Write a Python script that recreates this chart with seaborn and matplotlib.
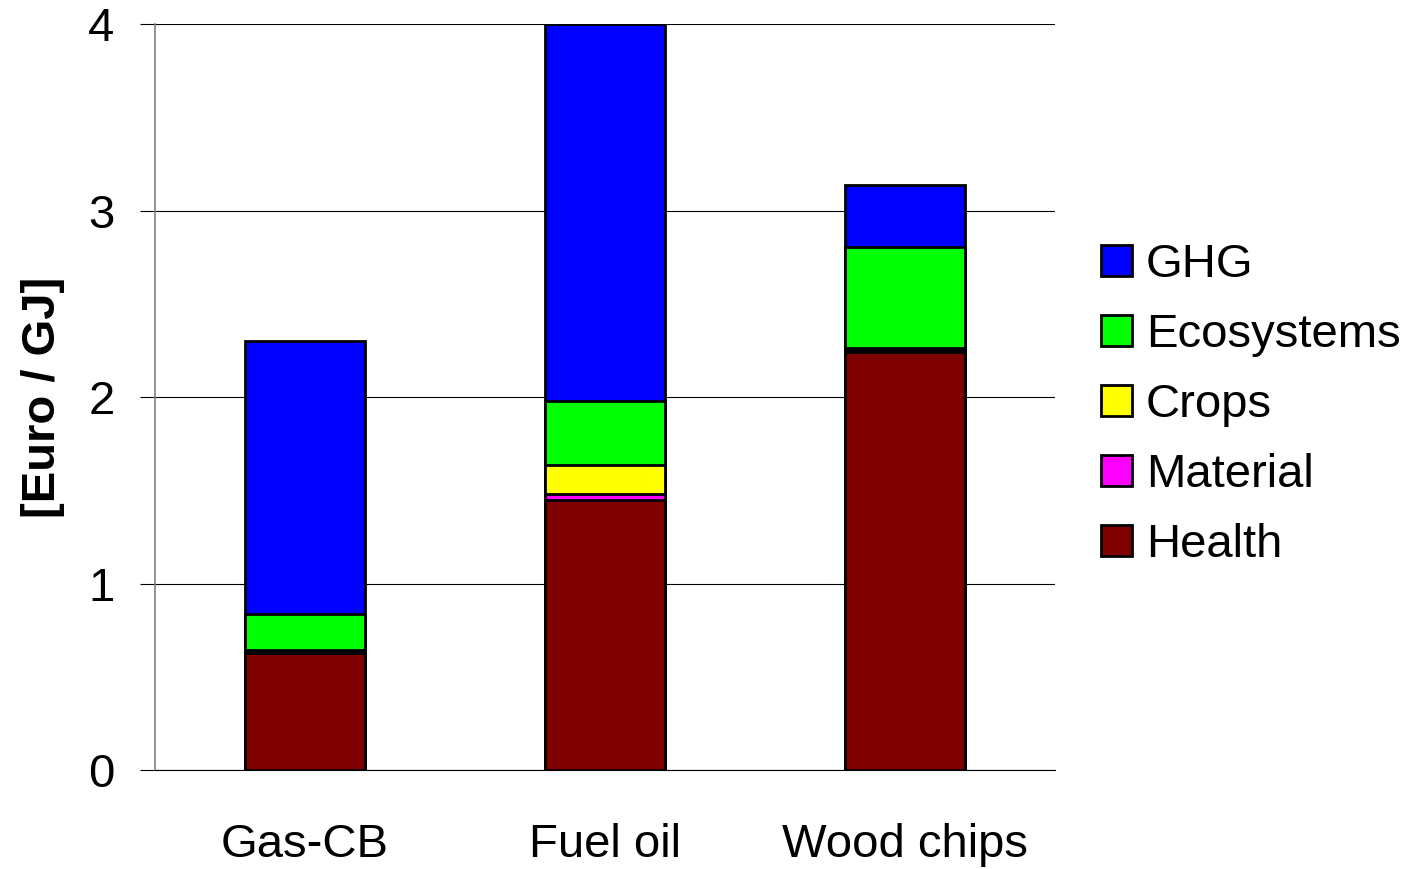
import numpy as np
import pandas as pd
import matplotlib
matplotlib.use('Agg')
import matplotlib.pyplot as plt
import seaborn as sns
from matplotlib.patches import Patch

# Values (Euro / GJ)
fuels = ['Gas-CB', 'Fuel oil', 'Wood chips']
health = [0.63, 1.45, 2.24]
material = [0.01, 0.03, 0.015]
crops = [0.005, 0.155, 0.01]
ecosystems = [0.19, 0.345, 0.54]
ghg = [1.465, 2.02, 0.335]

categories = ['Health', 'Material', 'Crops', 'Ecosystems', 'GHG']
colors = {'Health': '#800000', 'Material': '#FF00FF', 'Crops': '#FFFF00',
          'Ecosystems': '#00FF00', 'GHG': '#0000FF'}

df = pd.DataFrame({'fuel': fuels, 'Health': health, 'Material': material,
                   'Crops': crops, 'Ecosystems': ecosystems, 'GHG': ghg})
cum = df[categories].cumsum(axis=1)
cum['fuel'] = df['fuel']

sns.set_style('white')
plt.rcParams['font.family'] = ['Liberation Sans', 'DejaVu Sans']
plt.rcParams['text.color'] = 'black'
plt.rcParams['axes.labelcolor'] = 'black'
plt.rcParams['xtick.color'] = 'black'
plt.rcParams['ytick.color'] = 'black'

fig = plt.figure(figsize=(14.08, 8.69), dpi=100)
ax = fig.add_axes([0.110, 0.114, 0.639, 0.858])

# stacked bars: draw cumulative totals from the top layer down
for cat in categories[::-1]:
    sns.barplot(data=cum, x='fuel', y=cat, color=colors[cat], saturation=1,
                width=0.4, edgecolor='black', linewidth=2.0, ax=ax, zorder=3)

ax.set_xlim(-0.5, 2.5)
ax.set_ylim(0, 4)
ax.set_yticks([0, 1, 2, 3, 4])
ax.yaxis.grid(True, color='black', linewidth=0.8, zorder=0)
ax.set_axisbelow(True)

ax.set_xticks([0, 1, 2])
ax.set_xticklabels(fuels)
ax.set_xticks([-0.5, 0.5, 1.5, 2.5], minor=True)
ax.tick_params(axis='x', which='major', length=0, pad=38, labelsize=34)
ax.tick_params(axis='x', which='minor', length=11, width=0.8, color='black', direction='out')
ax.tick_params(axis='y', length=11, width=0.8, color='black', direction='out', pad=18, labelsize=34, left=True)

for s in ['top', 'right']:
    ax.spines[s].set_visible(False)
ax.spines['left'].set_color('#808080')
ax.spines['bottom'].set_color('black')
ax.spines['left'].set_linewidth(1.2)
ax.spines['bottom'].set_linewidth(0.8)

ax.set_xlabel('')
ax.set_ylabel('[Euro / GJ]', fontsize=34, fontweight='bold', labelpad=17)

handles = [Patch(facecolor=colors[c], edgecolor='black', linewidth=2.0, label=c)
           for c in categories[::-1]]
fig.legend(handles=handles, loc='upper left', bbox_to_anchor=(0.7685, 0.742),
           frameon=False, fontsize=34, handlelength=0.65, handleheight=0.65,
           handletextpad=0.3, labelspacing=0.55, borderaxespad=0)

fig.savefig('out.png', dpi=100)
